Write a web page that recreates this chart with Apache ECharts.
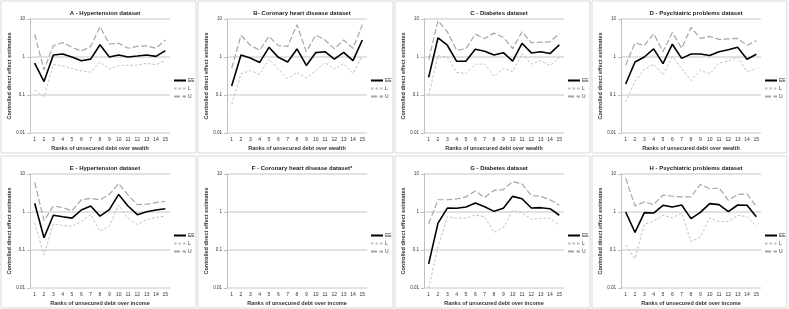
<!DOCTYPE html>
<html>
<head>
<meta charset="utf-8">
<script src="https://cdn.jsdelivr.net/npm/echarts@6/dist/echarts.min.js"></script>
<style>
  html, body { margin: 0; padding: 0; background: #fff; }
  #chart { width: 789px; height: 309px; }
</style>
</head>
<body>
<div id="chart"></div>
<script>
const ranks = ['1', '2', '3', '4', '5', '6', '7', '8', '9', '10', '11', '12', '13', '14', '15'];
const yTicks = [0.01, 0.1, 1, 10];

const titles = [
  'A - Hypertension dataset',
  'B- Coronary heart disease dataset',
  'C - Diabetes dataset',
  'D - Psychiatric problems dataset',
  'E - Hypertension dataset',
  'F - Coronary heart disease dataset*',
  'G - Diabetes dataset',
  'H - Psychiatric problems dataset'
];
const xNames = [
  'Ranks of unsecured debt over wealth',
  'Ranks of unsecured debt over wealth',
  'Ranks of unsecured debt over wealth',
  'Ranks of unsecured debt over wealth',
  'Ranks of unsecured debt over income',
  'Ranks of unsecured debt over income',
  'Ranks of unsecured debt over income',
  'Ranks of unsecured debt over income'
];

// A - hypertension / wealth
const aEE = [0.69, 0.226, 1.13, 1.2, 1.0, 0.8, 0.88, 2.1, 1.0, 1.13, 1.0, 1.06, 1.13, 1.04, 1.47];
const aL  = [0.136, 0.09, 0.63, 0.59, 0.5, 0.43, 0.4, 0.74, 0.48, 0.59, 0.61, 0.61, 0.68, 0.63, 0.8];
const aU  = [4.0, 0.46, 2.0, 2.4, 1.8, 1.44, 1.9, 6.3, 2.2, 2.3, 1.7, 1.9, 1.96, 1.7, 2.8];
// B - coronary heart disease / wealth
const bEE = [0.173, 1.13, 0.94, 0.72, 1.8, 0.98, 0.74, 1.63, 0.6, 1.3, 1.38, 0.88, 1.33, 0.8, 2.8];
const bL  = [0.057, 0.36, 0.44, 0.35, 0.88, 0.48, 0.27, 0.39, 0.28, 0.43, 0.71, 0.48, 0.67, 0.37, 1.08];
const bU  = [0.51, 3.7, 2.04, 1.5, 3.5, 2.0, 1.9, 7.1, 1.38, 3.8, 2.8, 1.63, 2.8, 1.7, 7.1];
// C - diabetes / wealth
const cEE = [0.29, 3.2, 2.04, 0.77, 0.78, 1.6, 1.41, 1.13, 1.3, 0.78, 2.3, 1.28, 1.38, 1.23, 2.08];
const cL  = [0.1, 1.08, 1.0, 0.39, 0.37, 0.65, 0.65, 0.31, 0.5, 0.41, 1.23, 0.65, 0.8, 0.6, 0.94];
const cU  = [0.85, 9.0, 4.6, 1.5, 1.66, 4.0, 3.07, 4.25, 3.3, 1.66, 4.6, 2.35, 2.45, 2.5, 4.15];
// D - psychiatric problems / wealth
const dEE = [0.195, 0.74, 1.0, 1.63, 0.67, 2.17, 0.92, 1.2, 1.2, 1.1, 1.38, 1.56, 1.8, 0.87, 1.18];
const dL  = [0.065, 0.23, 0.47, 0.65, 0.34, 1.02, 0.5, 0.24, 0.45, 0.36, 0.69, 0.79, 1.0, 0.41, 0.5];
const dU  = [0.61, 2.35, 2.0, 4.1, 1.38, 4.4, 1.7, 6.0, 3.1, 3.5, 2.9, 3.0, 3.1, 2.0, 2.7];
// E - hypertension / income
const eEE = [1.7, 0.21, 0.82, 0.75, 0.69, 1.13, 1.44, 0.78, 1.15, 2.9, 1.44, 0.85, 1.02, 1.13, 1.22];
const eL  = [0.51, 0.074, 0.48, 0.44, 0.42, 0.57, 0.85, 0.31, 0.43, 1.53, 0.69, 0.47, 0.63, 0.72, 0.78];
const eU  = [6.0, 0.59, 1.44, 1.3, 1.08, 2.1, 2.3, 2.08, 2.9, 5.6, 2.8, 1.56, 1.6, 1.77, 1.92];
// F - coronary heart disease / income (no estimates)
const fEE = [];
const fL  = [];
const fU  = [];
// G - diabetes / income
const gEE = [0.043, 0.51, 1.27, 1.25, 1.35, 1.72, 1.38, 1.04, 1.25, 2.58, 2.24, 1.27, 1.3, 1.22, 0.82];
const gL  = [0.01, 0.12, 0.75, 0.69, 0.69, 0.83, 0.75, 0.29, 0.39, 1.1, 0.96, 0.64, 0.68, 0.69, 0.45];
const gU  = [0.49, 2.1, 2.1, 2.2, 2.5, 3.55, 2.4, 3.7, 3.9, 6.3, 5.5, 2.7, 2.58, 2.1, 1.5];
// H - psychiatric problems / income
const hEE = [1.0, 0.29, 0.96, 0.94, 1.5, 1.36, 1.53, 0.67, 0.98, 1.66, 1.56, 1.02, 1.53, 1.5, 0.75];
const hL  = [0.134, 0.059, 0.48, 0.57, 0.82, 0.71, 0.92, 0.168, 0.22, 0.69, 0.56, 0.56, 0.82, 0.75, 0.42];
const hU  = [7.8, 1.44, 1.84, 1.56, 2.8, 2.6, 2.5, 2.5, 5.3, 4.1, 4.3, 2.04, 2.9, 3.0, 1.38];

const panels = [
  [aEE, aL, aU], [bEE, bL, bU], [cEE, cL, cU], [dEE, dL, dU],
  [eEE, eL, eU], [fEE, fL, fU], [gEE, gL, gU], [hEE, hL, hU]
];

const FONT = '"Liberation Sans", Arial, sans-serif';
const PW = 195, PH = 152;

const seriesStyles = [
  { name: 'EE', color: '#000000', width: 1.6, type: 'solid' },
  { name: 'L', color: '#bfbfbf', width: 1, type: [2.5, 2] },
  { name: 'U', color: '#a6a6a6', width: 1.2, type: [6, 2.5] }
];

const grids = [], xAxes = [], yAxes = [], titleOpts = [], legends = [], series = [], rects = [];

panels.forEach((p, i) => {
  const col = i % 4, row = Math.floor(i / 4);
  const px = 1 + col * 197;
  const py = 1 + row * 155;

  rects.push({
    type: 'rect',
    shape: { x: px, y: py, width: PW, height: PH },
    style: { fill: 'none', stroke: '#d9d9d9', lineWidth: 1 },
    silent: true
  });

  grids.push({ left: px + 29, top: py + 18, width: 140, height: 114 });

  titleOpts.push({
    text: titles[i],
    left: px + 99,
    top: py + 4,
    textAlign: 'center',
    textStyle: { fontFamily: FONT, fontSize: 6, fontWeight: 'bold', color: '#222' }
  });

  xAxes.push({
    type: 'category',
    gridIndex: i,
    data: ranks,
    boundaryGap: true,
    name: xNames[i],
    nameLocation: 'middle',
    nameGap: 12,
    nameTextStyle: { fontFamily: FONT, fontSize: 5.5, fontWeight: 'bold', color: '#333' },
    axisLine: { show: false },
    axisTick: { show: false },
    axisLabel: { fontFamily: FONT, fontSize: 5, color: '#333', margin: 4, interval: 0 }
  });

  yAxes.push({
    type: 'log',
    logBase: 10,
    gridIndex: i,
    min: yTicks[0],
    max: yTicks[yTicks.length - 1],
    name: 'Controlled direct effect estimates',
    nameLocation: 'middle',
    nameGap: 17,
    nameTextStyle: { fontFamily: FONT, fontSize: 5.5, fontWeight: 'bold', color: '#333' },
    axisLine: { show: true, lineStyle: { color: '#bfbfbf', width: 1 } },
    axisTick: { show: true, length: 3, lineStyle: { color: '#bfbfbf' } },
    axisLabel: {
      fontFamily: FONT, fontSize: 4.5, color: '#333', margin: 5,
      formatter: v => String(+v.toPrecision(2))
    },
    splitLine: { show: true, lineStyle: { color: '#d9d9d9', width: 1.5 } }
  });

  legends.push({
    data: seriesStyles.map(s => s.name),
    orient: 'vertical',
    left: px + 172,
    top: py + 77,
    padding: 0,
    itemWidth: 12,
    itemHeight: 4,
    itemGap: 3,
    itemStyle: { opacity: 0 },
    textStyle: { fontFamily: FONT, fontSize: 5, color: '#333', padding: [0, 0, 0, -3] }
  });

  seriesStyles.forEach((s, k) => {
    series.push({
      name: s.name,
      type: 'line',
      xAxisIndex: i,
      yAxisIndex: i,
      data: p[k],
      symbol: 'none',
      z: 3 - k,
      itemStyle: { color: s.color },
      lineStyle: { color: s.color, width: s.width, type: s.type }
    });
  });
});

const chart = echarts.init(document.getElementById('chart'), null, { renderer: 'canvas' });
chart.setOption({
  animation: false,
  backgroundColor: '#ffffff',
  title: titleOpts,
  grid: grids,
  xAxis: xAxes,
  yAxis: yAxes,
  legend: legends,
  series: series,
  graphic: rects
});
</script>
</body>
</html>
